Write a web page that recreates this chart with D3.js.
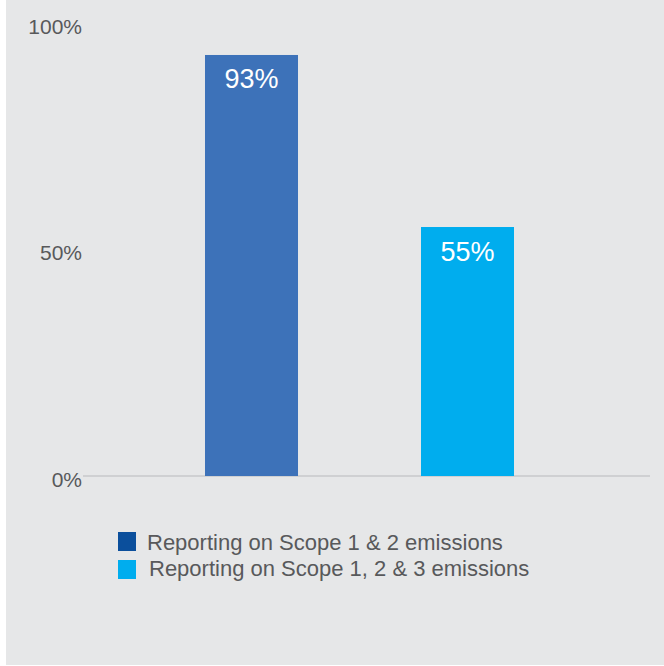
<!DOCTYPE html>
<html><head><meta charset="utf-8">
<script src="https://cdn.jsdelivr.net/npm/d3@7"></script>
<style>
html,body{margin:0;padding:0;background:#fff;}
svg{display:block;font-family:"Liberation Sans",Arial,Helvetica,sans-serif;}
</style></head>
<body>
<svg id="chart" width="664" height="666"></svg>
<script>
const categories = ["Reporting on Scope 1 & 2 emissions", "Reporting on Scope 1, 2 & 3 emissions"];
const values = [93, 55];
const valueLabels = ["93%", "55%"];
const barColors = ["#3d72b9", "#00adee"];
const legendColors = ["#0b4f9c", "#00adee"];
const tickValues = [0, 50, 100];
const tickLabels = ["0%", "50%", "100%"];

const svg = d3.select("#chart");
svg.append("rect").attr("x", 6).attr("y", 0).attr("width", 658).attr("height", 665).attr("fill", "#e6e7e8");

const x = d3.scaleBand().domain(categories).range([143.5, 575.5]).paddingInner(0.5694).paddingOuter(0.2847);
const y = d3.scaleLinear().domain([0, 100]).range([476, 23.3]);

// baseline
svg.append("line").attr("x1", 83).attr("x2", 650).attr("y1", y(0)).attr("y2", y(0))
  .attr("stroke", "#cfd0d2").attr("stroke-width", 2);

// y axis labels
const yAxis = d3.axisLeft(y).tickValues(tickValues).tickFormat((d, i) => tickLabels[i]).tickSize(0).tickPadding(0);
const gy = svg.append("g").attr("transform", "translate(82,0)").call(yAxis);
gy.select(".domain").remove();
gy.attr("font-size", 21).attr("font-family", "Liberation Sans, Arial, sans-serif");
gy.selectAll("text").attr("font-size", 21).attr("fill", "#58595b").attr("dy", 10);

// bars
svg.selectAll("rect.bar").data(values).enter().append("rect").attr("class", "bar")
  .attr("x", (d, i) => x(categories[i])).attr("width", x.bandwidth())
  .attr("y", d => y(d)).attr("height", d => y(0) - y(d))
  .attr("fill", (d, i) => barColors[i]);

// value labels
svg.selectAll("text.val").data(values).enter().append("text").attr("class", "val")
  .attr("x", (d, i) => x(categories[i]) + x.bandwidth() / 2)
  .attr("y", d => y(d) + 33.5)
  .attr("text-anchor", "middle").attr("fill", "#ffffff").attr("font-size", 27)
  .text((d, i) => valueLabels[i]);

// legend
const lg = svg.append("g");
const ly = [532, 560];
const lx = [147, 149];
const lb = [550, 576];
categories.forEach((c, i) => {
  lg.append("rect").attr("x", 118).attr("y", ly[i]).attr("width", 18).attr("height", 19).attr("fill", legendColors[i]);
  lg.append("text").attr("x", lx[i]).attr("y", lb[i]).attr("font-size", 22).attr("fill", "#58595b").text(c);
});
</script>
</body></html>
